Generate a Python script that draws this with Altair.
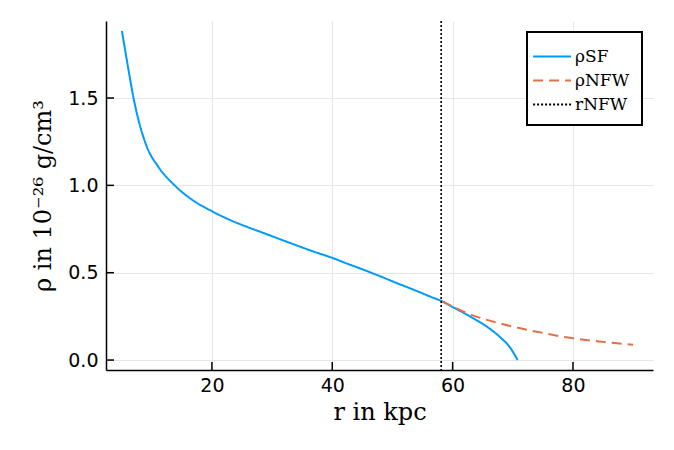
import altair as alt
import pandas as pd

# ---- data ----
r_sf = [5.05, 6.15, 6.98, 7.81, 9.2, 11.1, 13.9, 16.7, 20.0, 23.0, 25.8, 28.6, 31.3, 34.1,
        36.9, 40.0, 42.4, 45.2, 48.0, 50.7, 53.5, 56.3, 58.2, 60.1, 62.9, 65.7, 67.9, 69.6, 70.8]
rho_sf = [1.884, 1.659, 1.499, 1.373, 1.220, 1.106, 0.997, 0.918, 0.852, 0.802, 0.763, 0.727, 0.692, 0.656,
          0.621, 0.585, 0.553, 0.517, 0.479, 0.441, 0.403, 0.363, 0.337, 0.302, 0.250, 0.191, 0.131, 0.069, 0.0]

r_nfw = [58.2, 62.9, 68.4, 74.0, 79.5, 85.0, 90.0]
rho_nfw = [0.337, 0.262, 0.205, 0.162, 0.127, 0.104, 0.087]

r_nfw_scale = [58.1]

x_ticks = [20, 40, 60, 80]
y_ticks = [0.0, 0.5, 1.0, 1.5]

series_names = ["ρSF", "ρNFW", "rNFW"]
series_colors = ["#009AFA", "#E36F47", "#000000"]
series_dashes = [[1, 0], [10, 6], [2, 2]]

W, H = 547, 349

lines_df = pd.DataFrame({
    "r": r_sf + r_nfw,
    "rho": rho_sf + rho_nfw,
    "series": [series_names[0]] * len(r_sf) + [series_names[1]] * len(r_nfw),
})
rule_df = pd.DataFrame({"r": r_nfw_scale, "series": [series_names[2]]})
xt_df = pd.DataFrame({"r": x_ticks})
yt_df = pd.DataFrame({"rho": y_ticks})

x_scale = alt.Scale(domain=[2.4, 93.3], nice=False, zero=False)
y_scale = alt.Scale(domain=[-0.057, 1.941], nice=False, zero=False)

x_axis = alt.Axis(values=x_ticks, format="d", title="r in kpc")
y_axis = alt.Axis(values=y_ticks, format=".1f", title="ρ in 10⁻²⁶ g/cm³")

X = alt.X("r:Q", scale=x_scale, axis=x_axis)
Y = alt.Y("rho:Q", scale=y_scale, axis=y_axis)

legend = alt.Legend(orient="none", legendX=421, legendY=11)
color = alt.Color("series:N", scale=alt.Scale(domain=series_names, range=series_colors),
                  sort=series_names, title=None, legend=legend)
dash = alt.StrokeDash("series:N", scale=alt.Scale(domain=series_names, range=series_dashes),
                      sort=series_names, title=None, legend=legend)

lines = alt.Chart(lines_df).mark_line(strokeWidth=2, clip=True, interpolate="monotone").encode(
    x=X, y=Y, color=color, strokeDash=dash, order=alt.Order("r:Q"))

vrule = alt.Chart(rule_df).mark_rule(strokeWidth=1.6).encode(
    x=X, color=color, strokeDash=dash)

xticks = alt.Chart(xt_df).mark_rule(color="black", strokeWidth=1.5).encode(
    x=X, y=alt.value(H), y2=alt.value(H - 8))
yticks = alt.Chart(yt_df).mark_rule(color="black", strokeWidth=1.5).encode(
    y=Y, x=alt.value(0), x2=alt.value(8))

chart = alt.layer(lines, vrule, xticks, yticks).properties(
    width=W, height=H,
    autosize=alt.AutoSizeParams(type="none"),
    padding={"left": 98, "top": 13, "right": 5, "bottom": 60},
).configure_view(stroke=None).configure_axis(
    grid=True, gridColor="#e6e6e6", gridWidth=1,
    domainColor="black", domainWidth=1.5, ticks=False,
    labelFont="DejaVu Sans", labelFontSize=19, labelColor="black",
    titleFont="DejaVu Serif", titleFontSize=24, titleFontWeight="normal", titleColor="black",
).configure_axisX(labelPadding=6, titlePadding=5).configure_axisY(
    labelPadding=8, titlePadding=12).configure_legend(
    strokeColor="black", strokeWidth=2, fillColor="white", padding=12,
    labelFont="DejaVu Serif", labelFontSize=17, labelColor="black",
    symbolType="M-1.6,0L1.7,0", symbolSize=529, symbolStrokeWidth=2, rowPadding=3, labelOffset=11,
    cornerRadius=0,
)

chart.save("out.html", embed_options={"renderer": "svg", "actions": False})
